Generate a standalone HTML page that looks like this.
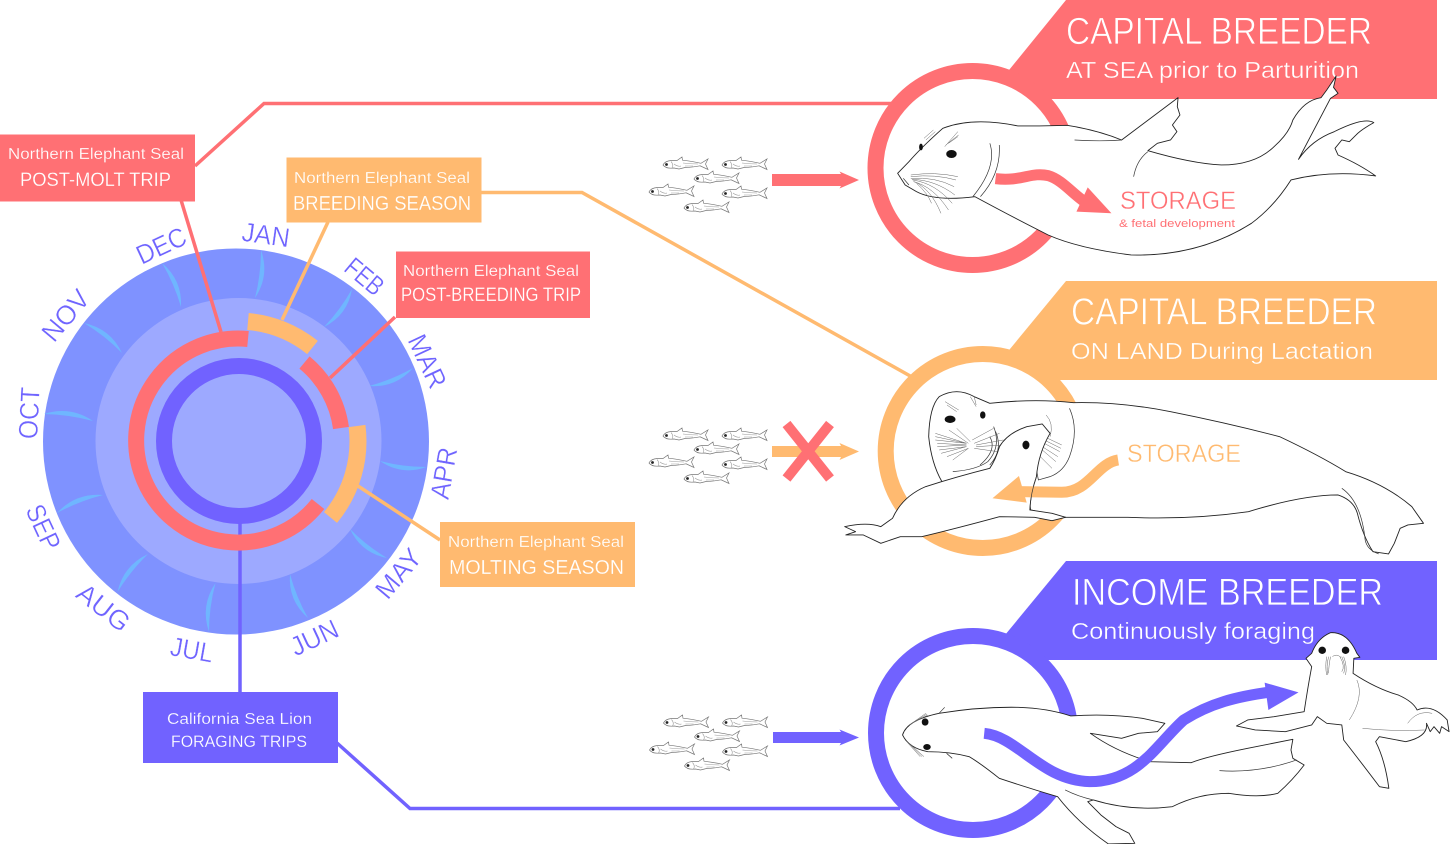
<!DOCTYPE html>
<html><head><meta charset="utf-8"><style>
html,body{margin:0;padding:0;background:#fff;width:1450px;height:844px;overflow:hidden}
svg{display:block}
text{font-family:"Liberation Sans",sans-serif}
.w{fill:#fff}
.tr{stroke:#FF7074}.to{stroke:#FFBA70}.tp{stroke:#7162FF}
.sm{stroke-width:.2}.big{stroke-width:.7}.mid{stroke-width:.35}
.m{fill:#6F64FF;font-size:27px;text-anchor:middle;stroke:#fff;stroke-width:.35}
.st{stroke:#fff;stroke-width:.4}
.l{fill:none;stroke-width:3.500}
.s{fill:#fff;stroke:#222;stroke-width:.9;stroke-linejoin:round;vector-effect:non-scaling-stroke}
.d{fill:none;stroke:#333;stroke-width:.7;vector-effect:non-scaling-stroke}
.g{fill:none;stroke:#666;stroke-width:.5;vector-effect:non-scaling-stroke}
.b{fill:none;stroke-width:11;vector-effect:non-scaling-stroke}
</style></head><body>
<svg width="1450" height="844" viewBox="0 0 1450 844" xmlns="http://www.w3.org/2000/svg">
<defs>
<g id="fish"><path d="M0,8 Q2,4 8,3.500 L14,3.500 L19,0 L19.500,3.200 Q30,4.500 38,6.300 L45,2 L42.500,7 L45,12.500 L37,8.800 Q28,10.500 22,10.500 L16,12 L11,11 Q3,12 0,8 Z" fill="#fff" stroke="#777" stroke-width=".7"/><circle cx="3.500" cy="7.500" r="1.400" fill="#222"/><path d="M8,4.500 Q11,8 9,11 M11,7 Q15,10 18,9 M20,6 Q28,7 35,7 M22,9 L30,9" fill="none" stroke="#999" stroke-width=".6"/></g>
<g id="school"><use href="#fish" x="663" y="157"/><use href="#fish" x="722" y="157"/><use href="#fish" x="694" y="171"/><use href="#fish" x="649" y="184"/><use href="#fish" x="722" y="186"/><use href="#fish" x="684" y="200"/></g>
</defs>

<!-- calendar disc -->
<circle cx="236" cy="441.500" r="193" fill="#7F92FF"/>
<g fill="#6FB6FF">
<path d="M261,250Q269.900,275.500 255,298Q261,274.400 261,250Z"/>
<path d="M352,289Q347.700,315.100 324,327Q340.400,309.800 352,289Z"/>
<path d="M413,368Q395.500,388.100 369,386Q392.100,379.800 413,368Z"/>
<path d="M426.500,467Q401.500,475.900 380,461Q402.600,467 426.500,467Z"/>
<path d="M387,558Q361.100,552.900 350,529Q366.600,545.900 387,558Z"/>
<path d="M308,618Q287.900,600.500 290,574Q296.200,597.100 308,618Z"/>
<path d="M209,632Q200.100,605.900 215.500,583Q209,607.100 209,632Z"/>
<path d="M117.500,592Q123.300,565.500 148,554Q130.400,571.100 117.500,592Z"/>
<path d="M57,513Q75.600,492.800 103,495Q78.900,501.200 57,513Z"/>
<path d="M44,414Q70.200,405.600 93,421Q68.900,414.500 44,414Z"/>
<path d="M84,323Q110.400,328.600 122,353Q104.900,335.600 84,323Z"/>
<path d="M162,263Q182.500,280.200 181,307Q174.300,283.800 162,263Z"/>
</g>
<circle cx="238.500" cy="441" r="143" fill="#9DA9FF"/>

<!-- connector lines -->
<g class="l">
<path d="M195,166L264,103.500H895" stroke="#FF7074"/>
<path d="M181,200L221,332" stroke="#FF7074"/>
<path d="M395,317L330,378" stroke="#FF7074"/>
<path d="M328,222L282,320" stroke="#FFBA70"/>
<path d="M480,192.500H582L912,377" stroke="#FFBA70"/>
<path d="M440,540L358,486" stroke="#FFBA70"/>
<path d="M240,520V693" stroke="#7162FF"/>
<path d="M337,743L410,808.500H900" stroke="#7162FF"/>
</g>

<!-- rings -->
<g fill="none">
<path d="M248,339A102,102 0 1 0 318,504" stroke="#FF7074" stroke-width="16"/>
<path d="M304.500,362.500A103,103 0 0 1 341,428" stroke="#FF7074" stroke-width="16"/>
<path d="M248,321.500A119.500,119.500 0 0 1 312.500,347.500" stroke="#FFBA70" stroke-width="17"/>
<path d="M357,426A119.500,119.500 0 0 1 330.500,517.500" stroke="#FFBA70" stroke-width="17"/>
<circle cx="239" cy="441" r="75" stroke="#7162FF" stroke-width="16"/>
</g>

<!-- months -->
<text class="m" textLength="48" lengthAdjust="spacingAndGlyphs" transform="translate(266,234) rotate(8) translate(0,10)">JAN</text>
<text class="m" textLength="42" lengthAdjust="spacingAndGlyphs" transform="translate(365,276) rotate(40) translate(0,10)">FEB</text>
<text class="m" textLength="56" lengthAdjust="spacingAndGlyphs" transform="translate(428,361) rotate(65) translate(0,10)">MAR</text>
<text class="m" textLength="52" lengthAdjust="spacingAndGlyphs" transform="translate(443,473) rotate(-80) translate(0,10)">APR</text>
<text class="m" textLength="56" lengthAdjust="spacingAndGlyphs" transform="translate(398,573) rotate(-50) translate(0,10)">MAY</text>
<text class="m" textLength="50" lengthAdjust="spacingAndGlyphs" transform="translate(314,637) rotate(-25) translate(0,10)">JUN</text>
<text class="m" textLength="43" lengthAdjust="spacingAndGlyphs" transform="translate(192,649) rotate(10) translate(0,10)">JUL</text>
<text class="m" textLength="60" lengthAdjust="spacingAndGlyphs" transform="translate(104,607) rotate(38) translate(0,10)">AUG</text>
<text class="m" textLength="47" lengthAdjust="spacingAndGlyphs" transform="translate(44,527) rotate(65) translate(0,10)">SEP</text>
<text class="m" textLength="52" lengthAdjust="spacingAndGlyphs" transform="translate(28.500,413) rotate(-87) translate(0,10)">OCT</text>
<text class="m" textLength="58" lengthAdjust="spacingAndGlyphs" transform="translate(65,315) rotate(-50) translate(0,10)">NOV</text>
<text class="m" textLength="52" lengthAdjust="spacingAndGlyphs" transform="translate(161,245) rotate(-25) translate(0,10)">DEC</text>

<!-- label boxes -->
<rect x="0" y="134.500" width="195" height="67" fill="#FF7074"/>
<text class="w tr sm" x="8" y="159" font-size="15.500" textLength="176" lengthAdjust="spacingAndGlyphs">Northern Elephant Seal</text>
<text class="w tr sm" x="20" y="186" font-size="19" textLength="151" lengthAdjust="spacingAndGlyphs">POST-MOLT TRIP</text>
<rect x="286.500" y="157.500" width="195" height="65" fill="#FFBA70"/>
<text class="w to sm" x="294" y="183" font-size="15.500" textLength="176" lengthAdjust="spacingAndGlyphs">Northern Elephant Seal</text>
<text class="w to sm" x="293" y="210" font-size="20" textLength="178" lengthAdjust="spacingAndGlyphs">BREEDING SEASON</text>
<rect x="396" y="251.500" width="194" height="66.500" fill="#FF7074"/>
<text class="w tr sm" x="403" y="276" font-size="15.500" textLength="176" lengthAdjust="spacingAndGlyphs">Northern Elephant Seal</text>
<text class="w tr sm" x="401" y="301" font-size="19" textLength="180" lengthAdjust="spacingAndGlyphs">POST-BREEDING TRIP</text>
<rect x="440" y="522" width="195" height="65" fill="#FFBA70"/>
<text class="w to sm" x="448" y="547" font-size="15.500" textLength="176" lengthAdjust="spacingAndGlyphs">Northern Elephant Seal</text>
<text class="w to sm" x="449" y="574" font-size="20" textLength="175" lengthAdjust="spacingAndGlyphs">MOLTING SEASON</text>
<rect x="143" y="692" width="195" height="71" fill="#7162FF"/>
<text class="w tp sm" x="167" y="724" font-size="15.500" textLength="145" lengthAdjust="spacingAndGlyphs">California Sea Lion</text>
<text class="w tp sm" x="171" y="747" font-size="16.500" textLength="136" lengthAdjust="spacingAndGlyphs">FORAGING TRIPS</text>

<!-- fish + arrows -->
<use href="#school"/>
<use href="#school" y="271"/>
<use href="#school" x=".5" y="558"/>
<path d="M772,174H841L839.500,171.500L859,180L839.500,188.500L841,186H772Z" fill="#FF7074"/>
<path d="M772,446H841L839.500,443L859,451.500L839.500,460L841,457H772Z" fill="#FFBA70"/>
<path d="M786.500,424L830,478.500M830,424L786.500,478.500" stroke="#FF7074" stroke-width="10" fill="none"/>
<path d="M773,732H841L839.500,729.500L859,737.500L839.500,745.500L841,743H773Z" fill="#7162FF"/>

<!-- RED PANEL -->
<path d="M1066,0H1437V99H1040L1005,75Z" fill="#FF7074"/>
<text class="w tr big" x="1066" y="44" font-size="38" textLength="306" lengthAdjust="spacingAndGlyphs">CAPITAL BREEDER</text>
<text class="w tr mid" x="1066" y="78" font-size="23" textLength="293" lengthAdjust="spacingAndGlyphs">AT SEA prior to Parturition</text>
<circle cx="972.500" cy="168" r="97" fill="#fff" stroke="#FF7074" stroke-width="16"/>
<g transform="translate(860,0) scale(.3764,.3333)">
<path class="s" d="M100,520L130,485Q165,440 220,385Q300,350 420,378Q500,378 550,376Q630,390 695,420L845,293L843,320L850,345L830,375L842,395L825,420L790,430L765,452Q880,490 960,495Q1050,495 1100,440Q1140,400 1150,360Q1180,300 1225,293L1240,270L1265,228L1258,262L1270,280L1250,295Q1215,370 1165,478Q1200,420 1260,395Q1340,350 1365,368Q1330,390 1318,405L1300,425L1280,420L1262,445L1270,465Q1330,495 1370,528Q1250,510 1145,540Q1100,620 1040,670Q900,770 720,765Q580,745 500,705Q420,660 305,590Q200,605 150,575L120,555Z"/>
<path class="d" d="M570,420Q640,425 695,420M765,455Q735,480 727,530M345,430Q365,500 300,590M370,435Q375,520 320,590M115,535L130,555"/>
<path class="g" d="M135,525Q200,515 260,530M135,530Q200,522 255,540M135,535Q200,530 250,560M138,538Q200,540 252,585M140,540Q200,550 245,610M142,545Q195,560 235,630M145,545Q190,570 215,640M150,550Q180,580 190,610M170,415L195,390M175,420L200,395M225,440L260,395M228,435L262,405M235,430L260,410"/>
<ellipse cx="243" cy="462" rx="14" ry="12" fill="#111"/><ellipse cx="162" cy="441" rx="5" ry="10" fill="#111"/>
<path class="b" d="M360,536C430,545 455,515 500,527C540,540 570,590 610,615" stroke="#FF7074"/>
<path d="M575,635L668,640L605,562Z" fill="#FF7074"/>
</g>
<text class="st" x="1120" y="209" font-size="25" textLength="116" lengthAdjust="spacingAndGlyphs" fill="#FF7074">STORAGE</text>
<text x="1119" y="227" font-size="11" textLength="116" lengthAdjust="spacingAndGlyphs" fill="#FF7074">&amp; fetal development</text>

<!-- ORANGE PANEL -->
<path d="M1066,281H1437V380H1040L1005,355Z" fill="#FFBA70"/>
<text class="w to big" x="1071" y="324.500" font-size="38" textLength="306" lengthAdjust="spacingAndGlyphs">CAPITAL BREEDER</text>
<text class="w to mid" x="1071" y="359" font-size="23" textLength="302" lengthAdjust="spacingAndGlyphs">ON LAND During Lactation</text>
<circle cx="982.700" cy="451" r="97" fill="#fff" stroke="#FFBA70" stroke-width="16"/>
<g transform="translate(840,280) scale(.389,.3333)">
<path class="s" d="M228,470Q230,380 255,350Q300,320 345,350L385,370Q500,355 600,368Q720,365 850,395Q1000,430 1130,470Q1230,525 1300,575Q1400,610 1470,680L1500,730L1460,735L1440,745L1425,790L1410,822L1370,815Q1345,770 1330,700Q1320,660 1280,645Q1190,645 1050,695Q900,720 740,712L580,712L490,690L485,640L262,605Q235,550 228,470Z"/>
<path class="d" d="M590,385Q615,450 590,530Q575,575 540,590L510,600L505,570Q510,520 530,480M1290,625Q1340,665 1350,780Q1355,810 1385,822M395,440Q415,500 380,545Q350,570 290,575M385,470Q405,510 360,555M400,455Q420,510 385,555"/>
<path class="g" d="M325,490L245,460M325,490L245,470M325,490L245,480M325,495L250,490M325,495L250,500M325,500L255,510M325,500L260,520M330,505L275,530M330,505L290,540M330,490L280,450M335,485L300,445M340,480L395,445M345,490L410,460M350,495L420,480M350,500L420,495M345,505L405,515M270,365L305,390M275,375L300,395M335,350L350,380M345,350L350,375M530,405Q550,430 540,470M525,470L570,495M525,480L568,505M525,490L565,515M520,500L560,530M520,510L555,545M515,530L545,565"/>
<ellipse cx="283" cy="418" rx="14" ry="11" fill="#111"/><ellipse cx="367" cy="405" rx="7" ry="11" fill="#111"/>
<path class="s" d="M12,740Q70,725 105,740L135,715Q160,650 220,620Q300,590 385,565Q400,540 410,500Q430,460 480,440L520,432L540,460Q510,520 505,590Q490,640 488,690L545,700L580,712L545,722L500,712L410,710Q300,745 210,770L155,770L105,790L60,765L15,765L40,755Z"/>
<ellipse cx="478" cy="495" rx="9" ry="13" fill="#111"/>
<path class="b" d="M715,540C660,550 640,637 570,637L460,635" stroke="#FFBA70"/>
<path d="M460,588L392,655L480,668Z" fill="#FFBA70"/>
<path class="d" d="M505,590Q490,640 488,690"/>
</g>
<text class="st" x="1127" y="462" font-size="25" textLength="114" lengthAdjust="spacingAndGlyphs" fill="#FFBA70">STORAGE</text>

<!-- PURPLE PANEL -->
<path d="M1066,561H1437V660H1040L1005,635Z" fill="#7162FF"/>
<text class="w tp big" x="1072" y="605" font-size="38" textLength="311" lengthAdjust="spacingAndGlyphs">INCOME BREEDER</text>
<text class="w tp mid" x="1071" y="639" font-size="23" textLength="244" lengthAdjust="spacingAndGlyphs">Continuously foraging</text>
<circle cx="973" cy="733" r="97" fill="#fff" stroke="#7162FF" stroke-width="16"/>
<g transform="translate(860,560) scale(.3764,.3333)">
<path class="s" d="M113,525Q125,480 210,460Q320,440 420,442Q500,445 560,468Q660,460 750,475L810,490L790,515L740,520L695,535L612,520Q680,575 770,605L880,608Q920,590 1030,565L1150,538L1145,570L1150,595L1180,615Q1150,660 1110,700Q1060,715 980,700Q900,700 830,740Q720,755 620,720L605,725L640,765L680,800L715,820L730,850L660,852Q580,790 525,710Q450,685 370,655Q320,610 290,590Q240,575 180,575Q130,565 113,525Z"/>
<path class="d" d="M210,460L225,442M230,580L245,595M955,632Q1060,640 1160,600M545,690Q580,710 620,720"/>
<path class="g" d="M125,500L175,460M128,497L178,462M130,495L180,465M120,540L160,590M123,543L165,590M125,545L170,590"/>
<ellipse cx="173" cy="486" rx="9" ry="11" fill="#111"/><ellipse cx="178" cy="561" rx="10" ry="9" fill="#111"/>
<path class="s" d="M1185,295L1200,280Q1215,235 1250,218Q1295,215 1320,280L1328,292L1312,295L1310,340Q1370,385 1430,405Q1470,425 1480,450Q1520,430 1560,480L1565,515L1545,500L1540,520L1525,500L1515,515L1505,490Q1510,530 1450,545L1380,530L1370,545Q1395,600 1405,685L1380,680Q1340,620 1285,540L1280,495L1240,490L1215,470L1200,495L1130,515L1050,510L1000,498L1030,480L1100,470L1180,455Q1190,380 1200,320Z"/>
<path class="g" d="M1240,290Q1235,320 1240,345M1245,290Q1238,320 1243,345M1250,290Q1245,320 1245,340M1285,290Q1295,320 1290,345M1280,290Q1292,320 1285,340M1275,290Q1290,320 1280,335M1255,290Q1265,280 1278,292M1320,360Q1340,410 1300,480M1455,490Q1480,450 1520,460M1335,505Q1420,515 1500,510"/>
<ellipse cx="1228" cy="271" rx="10" ry="11" fill="#111"/><ellipse cx="1290" cy="271" rx="10" ry="11" fill="#111"/>
<path class="b" d="M330,520C420,530 480,660 610,665C740,665 790,550 860,480C930,430 1000,410 1090,396" stroke="#7162FF"/>
<path d="M1075,368L1165,397L1085,450Z" fill="#7162FF"/>
</g>
</svg>
</body></html>
